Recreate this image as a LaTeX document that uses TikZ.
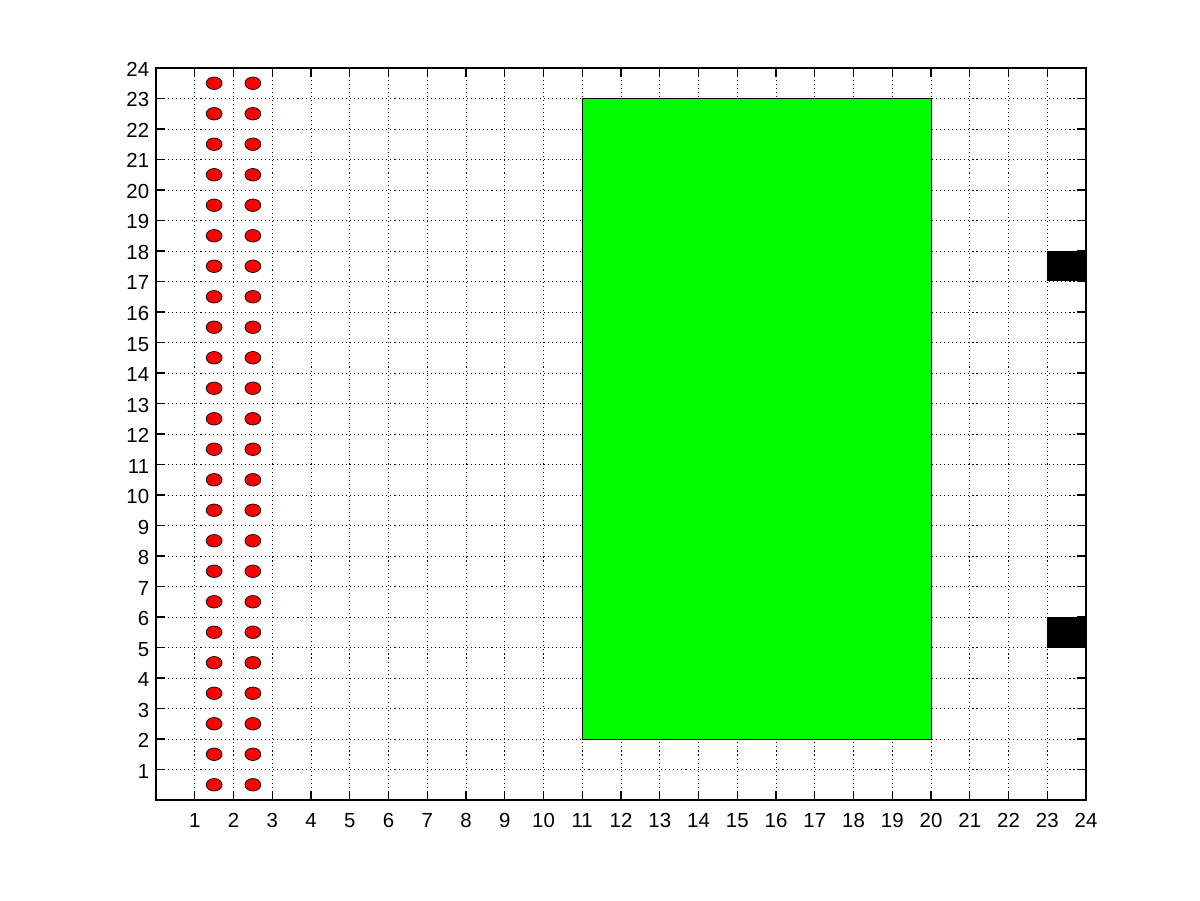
\documentclass[tikz,border=0pt]{standalone}
\usepackage{fontspec}
\setmainfont{Liberation Sans}

\begin{document}
\begin{tikzpicture}[x=0.775cm,y=0.61cm,font=\fontsize{11.6}{13}\selectfont]
  \definecolor{ink}{RGB}{0,0,0}
  \definecolor{zone}{RGB}{0,255,0}
  \definecolor{seat}{RGB}{255,0,0}
  \tikzset{
    gridline/.style={ink, line width=0.5pt, dash pattern=on 0.6pt off 1.7pt},
    axisline/.style={ink, line width=0.6pt},
    ticklabel/.style={ink, inner sep=0pt}
  }
  \useasboundingbox (-4.0258,-3.2787) rectangle (26.942,26.2295);

  % grid
  \foreach \k in {1,...,23} {
    \draw[gridline] (\k,0) -- (\k,24);
    \draw[gridline] (0,\k) -- (24,\k);
  }

  % zones
  \draw[fill=zone, draw=ink, line width=0.5pt] (11,2) rectangle (20,23);
  \fill[ink] (23,17) rectangle (24,18);
  \fill[ink] (23,5) rectangle (24,6);

  % seats
  \foreach \sx in {1.5,2.5} {
    \foreach \sy in {0.5,1.5,...,23.5} {
      \draw[fill=seat, draw=ink, line width=0.4pt] (\sx,\sy) ellipse [x radius=0.158cm, y radius=0.125cm];
    }
  }

  % axes and ticks
  \draw[axisline] (0,0) rectangle (24,24);
  \foreach \k in {1,...,24} {
    \draw[axisline] (\k,0) -- ++(0,0.18cm);
    \draw[axisline] (\k,24) -- ++(0,-0.18cm);
    \draw[axisline] (0,\k) -- ++(0.18cm,0);
    \draw[axisline] (24,\k) -- ++(-0.18cm,0);
    \node[ticklabel, anchor=base] (xl\k) at ([yshift=-0.55cm]\k,0) {\k};
    \node[ticklabel, anchor=base east] (yl\k) at ([xshift=-0.13cm, yshift=-0.17cm]0,\k) {\k};
  }
\end{tikzpicture}
\end{document}
